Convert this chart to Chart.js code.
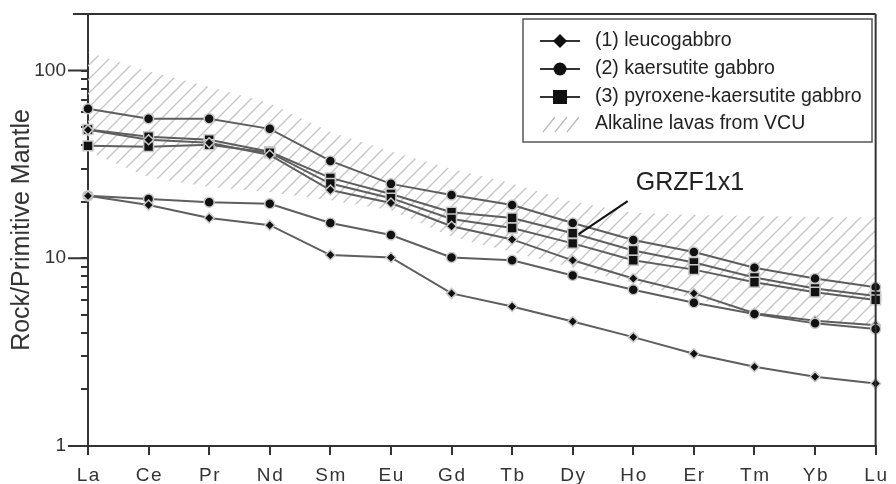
<!DOCTYPE html>
<html>
<head>
<meta charset="utf-8">
<script src="https://cdn.jsdelivr.net/npm/chart.js@4.4.1/dist/chart.umd.min.js"></script>
<style>
html, body { margin: 0; padding: 0; background: #fff; }
#wrap { width: 896px; height: 484px; position: relative; }
</style>
</head>
<body>
<div id="wrap"><canvas id="ree"></canvas></div>
<script>
// REE pattern, normalised to primitive mantle
const elements = ['La', 'Ce', 'Pr', 'Nd', 'Sm', 'Eu', 'Gd', 'Tb', 'Dy', 'Ho', 'Er', 'Tm', 'Yb', 'Lu'];

// (2) kaersutite gabbro
const kaersA = [62.5, 55.4, 55.4, 48.9, 33.0, 24.9, 21.7, 19.2, 15.4, 12.5, 10.8, 8.9, 7.8, 7.0];
const kaersB = [21.5, 20.7, 19.9, 19.5, 15.4, 13.3, 10.1, 9.75, 8.1, 6.8, 5.8, 5.05, 4.5, 4.2];
// (3) pyroxene-kaersutite gabbro (A = GRZF1x1)
const pyxA = [48.5, 44.4, 42.8, 36.9, 26.8, 22.0, 17.6, 16.4, 13.6, 11.0, 9.5, 7.9, 6.9, 6.3];
const pyxB = [39.7, 39.3, 40.2, 36.5, 25.0, 20.9, 16.2, 14.5, 12.0, 9.75, 8.7, 7.45, 6.6, 6.0];
// (1) leucogabbro
const leucoA = [48.3, 42.8, 41.2, 35.5, 23.1, 19.7, 14.8, 12.6, 9.75, 7.8, 6.5, 5.1, 4.65, 4.4];
const leucoB = [21.5, 19.2, 16.4, 15.0, 10.4, 10.1, 6.5, 5.53, 4.6, 3.8, 3.1, 2.64, 2.34, 2.15];

// field of alkaline lavas from VCU
const vcuUpper = [125, 99, 82, 67, 47, 37, 30, 25, 20, 17.5, 17, 16.8, 16.6, 16.5];
const vcuLower = [37, 27, 24, 22.5, 20.4, 18, 13, 10.8, 8.9, 7.4, 6.1, 5.1, 4.7, 4.4];

const yMajor = [1, 10, 100];
const legendItems = ['(1) leucogabbro', '(2) kaersutite gabbro', '(3) pyroxene-kaersutite gabbro', 'Alkaline lavas from VCU'];
const labelName = 'GRZF1x1';

const FONT = "'Liberation Sans', Arial, sans-serif";
Chart.defaults.font.family = FONT;
Chart.defaults.color = '#333';

// hatch pattern for the VCU field
function makeHatch() {
    const c = document.createElement('canvas');
    c.width = 14; c.height = 14;
    const g = c.getContext('2d');
    g.strokeStyle = '#c4c4c4';
    g.lineWidth = 1.3;
    g.beginPath();
    g.moveTo(0, 14); g.lineTo(14, 0);
    g.moveTo(-2, 2); g.lineTo(2, -2);
    g.moveTo(12, 16); g.lineTo(16, 12);
    g.stroke();
    return g.createPattern(c, 'repeat');
}
const hatch = makeHatch();

function series(data, style, radius) {
    return {
        data: data,
        borderColor: '#5e5e5e',
        borderWidth: 2,
        pointStyle: style,
        pointRadius: radius,
        pointBackgroundColor: '#111',
        pointBorderColor: '#c8c8c8',
        pointBorderWidth: 1.5,
        tension: 0,
        fill: false
    };
}

// frame, legend box and sample label
const extras = {
    id: 'extras',
    afterDraw(chart) {
        const ctx = chart.ctx;
        const a = chart.chartArea;
        const ys = chart.scales.y;
        const xs = chart.scales.x;
        ctx.save();
        ctx.strokeStyle = '#333';
        ctx.lineWidth = 2;
        ctx.beginPath();
        ctx.moveTo(73, a.top); ctx.lineTo(a.right, a.top);
        ctx.moveTo(a.right, a.top); ctx.lineTo(a.right, a.bottom);
        // long ticks at decades
        yMajor.forEach(v => {
            const y = ys.getPixelForValue(v);
            ctx.moveTo(a.left - 20, y); ctx.lineTo(a.left, y);
        });
        ctx.stroke();

        // legend
        const bx = 523, by = 19, bw = 349, bh = 123;
        ctx.fillStyle = '#fff';
        ctx.fillRect(bx, by, bw, bh);
        ctx.strokeStyle = '#555';
        ctx.lineWidth = 1.5;
        ctx.strokeRect(bx, by, bw, bh);
        const rows = [41, 69, 97, 124];
        ctx.font = '19.5px ' + FONT;
        ctx.textBaseline = 'middle';
        ctx.textAlign = 'left';
        rows.forEach((ry, i) => {
            if (i < 3) {
                ctx.strokeStyle = '#333';
                ctx.lineWidth = 2;
                ctx.beginPath();
                ctx.moveTo(540, ry); ctx.lineTo(580, ry);
                ctx.stroke();
                ctx.fillStyle = '#111';
                ctx.beginPath();
                if (i === 0) {
                    ctx.moveTo(560, ry - 7); ctx.lineTo(567, ry); ctx.lineTo(560, ry + 7); ctx.lineTo(553, ry);
                    ctx.closePath();
                } else if (i === 1) {
                    ctx.arc(560, ry, 6.5, 0, Math.PI * 2);
                } else {
                    ctx.rect(553, ry - 7, 14, 14);
                }
                ctx.fill();
            } else {
                ctx.strokeStyle = '#bbb';
                ctx.lineWidth = 1.3;
                ctx.beginPath();
                [543, 555, 567].forEach(hx => { ctx.moveTo(hx, ry + 8); ctx.lineTo(hx + 12, ry - 7); });
                ctx.stroke();
            }
            ctx.fillStyle = '#222';
            ctx.fillText(legendItems[i], 595, ry);
        });

        // GRZF1x1 pointer
        const px = xs.getPixelForValue(8);
        const py = ys.getPixelForValue(pyxA[8]);
        ctx.strokeStyle = '#111';
        ctx.lineWidth = 2;
        ctx.beginPath();
        ctx.moveTo(px + 6, py + 1);
        ctx.lineTo(px + 55, py - 32);
        ctx.stroke();
        ctx.font = '25px ' + FONT;
        ctx.fillStyle = '#222';
        ctx.fillText(labelName, px + 63, py - 50);
        ctx.restore();
    }
};

new Chart(document.getElementById('ree'), {
    type: 'line',
    data: {
        labels: elements,
        datasets: [
            { data: vcuLower, borderWidth: 0, pointRadius: 0, fill: false },
            { data: vcuUpper, borderWidth: 0, pointRadius: 0, fill: '-1', backgroundColor: hatch },
            series(leucoB, 'rectRot', 5),
            series(kaersB, 'circle', 5),
            series(leucoA, 'rectRot', 5),
            series(pyxB, 'rect', 7),
            series(pyxA, 'rect', 7),
            series(kaersA, 'circle', 5)
        ]
    },
    options: {
        responsive: true,
        maintainAspectRatio: false,
        animation: false,
        layout: { padding: { left: 0, right: 18, top: 14, bottom: 0 } },
        plugins: {
            legend: { display: false },
            tooltip: { enabled: false },
            filler: { drawTime: 'beforeDatasetsDraw' }
        },
        scales: {
            x: {
                type: 'category',
                offset: false,
                border: { display: true, color: '#333', width: 2 },
                grid: { drawOnChartArea: false, drawTicks: true, tickLength: 9, color: '#333', lineWidth: 2 },
                ticks: {
                    autoSkip: false,
                    maxRotation: 0,
                    padding: 9,
                    font: { size: 19 },
                    color: '#333',
                    callback: function (v) { return elements[v].split('').join('\u200A'); }
                },
                afterFit: s => { s.height = 38; }
            },
            y: {
                type: 'logarithmic',
                min: 1,
                max: 200,
                border: { display: true, color: '#333', width: 2 },
                grid: { drawOnChartArea: false, drawTicks: true, tickLength: 7, color: '#333', lineWidth: 2 },
                afterBuildTicks: s => {
                    const t = [];
                    [1, 10, 100].forEach(d => {
                        for (let k = 1; k <= 9; k++) {
                            if (d * k <= 200) t.push({ value: d * k });
                        }
                    });
                    t.push({ value: 200 });
                    s.ticks = t;
                },
                ticks: {
                    autoSkip: false,
                    padding: 15,
                    font: { size: 19 },
                    color: '#333',
                    callback: v => (yMajor.includes(v) ? String(v) : '')
                },
                title: {
                    display: true,
                    text: 'Rock/Primitive Mantle',
                    font: { size: 25 },
                    color: '#333',
                    padding: { top: 7, bottom: 0 }
                },
                afterFit: s => {
                    s.width = 88;
                    s.paddingTop = 0;
                    s.paddingBottom = 0;
                }
            }
        }
    },
    plugins: [extras]
});
</script>
</body>
</html>
